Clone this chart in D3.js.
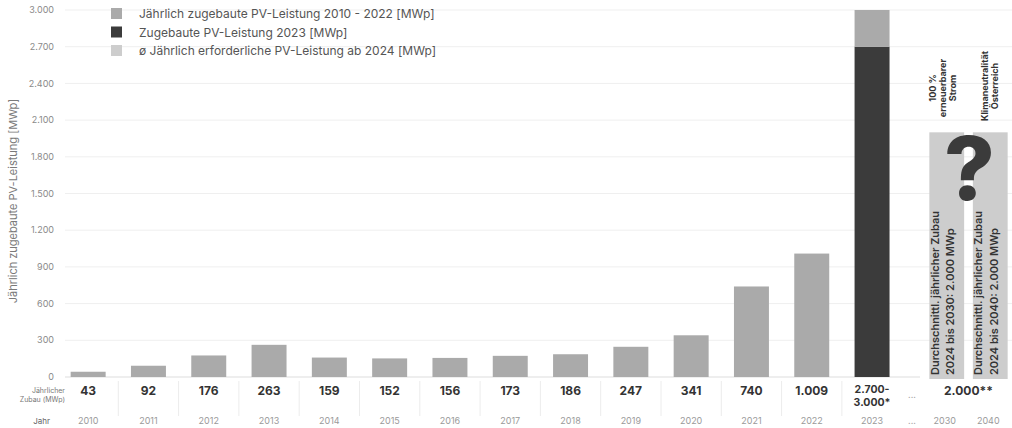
<!DOCTYPE html>
<html><head><meta charset="utf-8">
<script src="https://cdn.jsdelivr.net/npm/d3@7"></script>
<style>body{margin:0;background:#fff}svg{display:block;font-family:Inter,"Open Sans",sans-serif}</style>
</head><body><svg id="c" width="1012" height="428"></svg>
<script>
const years = ["2010","2011","2012","2013","2014","2015","2016","2017","2018","2019","2020","2021","2022","2023"];
const values = [43,92,176,263,159,152,156,173,186,247,341,740,1009,2700];
const range2023Top = 3000;
const valueLabels = ["43","92","176","263","159","152","156","173","186","247","341","740","1.009","2.700-|3.000*"];
const futureYears = ["2030","2040"];
const futureValues = [2000,2000];
const futureLabel = "2.000**";
const yTicks = [0,300,600,900,1200,1500,1800,2100,2400,2700,3000];
const legendItems = ["Jährlich zugebaute PV-Leistung 2010 - 2022 [MWp]","Zugebaute PV-Leistung 2023 [MWp]","ø Jährlich erforderliche PV-Leistung ab 2024 [MWp]"];
const futureTopLabels = [["100 %","erneuerbarer","Strom"],["Klimaneutralität","Österreich"]];
const futureBoxLabels = [["Durchschnittl. jährlicher Zubau","2024 bis 2030: 2.000 MWp"],["Durchschnittl. jährlicher Zubau","2024 bis 2040: 2.000 MWp"]];

const C_MID="#aaaaaa", C_DARK="#3b3b3b", C_LIGHT="#cdcdcd";
const svg=d3.select("#c");
const y=d3.scaleLinear().domain([0,3000]).range([377,10]);
const x=d3.scaleBand().domain(years).range([58,902.2]).paddingInner(0.42).paddingOuter(0.21);
const xf=d3.scaleBand().domain(futureYears).range([925,1012]).paddingInner(0.2).paddingOuter(0.1);

// gridlines
svg.append("g").selectAll("line").data(yTicks).join("line")
 .attr("x1",65).attr("x2",d=>d===0?920:1012).attr("y1",d=>y(d)).attr("y2",d=>y(d))
 .attr("stroke",d=>d===0?"#dddddd":"#efefef").attr("stroke-width",1);
// y tick labels
svg.append("g").selectAll("text").data(yTicks).join("text")
 .attr("x",54).attr("y",d=>y(d)).attr("dy","0.35em").attr("text-anchor","end")
 .attr("font-size",9).attr("fill","#8a8a8a").text(d=>d3.format(",")(d).replace(/,/g,"."));
// y title
svg.append("text").attr("transform","translate(17,201) rotate(-90)").attr("text-anchor","middle")
 .attr("font-size",11).attr("fill","#7a7a7a").text("Jährlich zugebaute PV-Leistung [MWp]");

// bars
svg.append("g").selectAll("rect").data(years).join("rect")
 .attr("x",d=>x(d)).attr("width",x.bandwidth())
 .attr("y",(d,i)=>y(values[i])).attr("height",(d,i)=>y(0)-y(values[i]))
 .attr("fill",(d,i)=>d==="2023"?C_DARK:C_MID);
// 2023 upper range
svg.append("rect").attr("x",x("2023")).attr("width",x.bandwidth())
 .attr("y",y(range2023Top)).attr("height",y(values[13])-y(range2023Top)).attr("fill",C_MID);

// future boxes
svg.append("g").selectAll("rect").data(futureYears).join("rect")
 .attr("x",d=>xf(d)).attr("width",xf.bandwidth())
 .attr("y",(d,i)=>y(futureValues[i])).attr("height",(d,i)=>y(0)-y(futureValues[i])+2)
 .attr("fill",C_LIGHT);
// question mark
svg.append("text").attr("x",(xf("2030")+xf("2040")+xf.bandwidth())/2+1).attr("y",y(2000)+68)
 .attr("text-anchor","middle").attr("font-size",88).attr("font-weight",800).attr("fill",C_DARK).text("?");
// box labels
futureBoxLabels.forEach((lines,k)=>{
  const cx=xf(futureYears[k])+xf.bandwidth()/2;
  lines.forEach((t,j)=>{
    svg.append("text").attr("transform",`translate(${cx-8+j*15.5},375) rotate(-90)`)
     .attr("font-size",11).attr("font-weight",600).attr("fill","#333").text(t);
  });
});
// top labels
futureTopLabels.forEach((lines,k)=>{
  const cx=xf(futureYears[k])+xf.bandwidth()/2;
  const n=lines.length;
  lines.forEach((t,j)=>{
    svg.append("text").attr("transform",`translate(${cx+(j-(n-1)/2)*10+(k===0?-1:3)},${k===0?88:86}) rotate(-90)`)
     .attr("text-anchor","middle").attr("font-size",9).attr("font-weight",700).attr("fill","#333").text(t);
  });
});

// legend
const lg=svg.append("g");
legendItems.forEach((t,i)=>{
  lg.append("rect").attr("x",111).attr("y",8+i*18.5).attr("width",11).attr("height",11)
   .attr("fill",[C_MID,C_DARK,C_LIGHT][i]);
  lg.append("text").attr("x",139).attr("y",18+i*18.5).attr("font-size",12).attr("fill","#555").text(t);
});

// table
const allCenters=years.map(d=>x(d)+x.bandwidth()/2);
svg.append("g").selectAll("line").data(years.slice(0,13)).join("line")
 .attr("x1",d=>x(d)+x.bandwidth()+x.step()*0.21).attr("x2",d=>x(d)+x.bandwidth()+x.step()*0.21)
 .attr("y1",381).attr("y2",416).attr("stroke","#ececec");
years.forEach((d,i)=>{
  const parts=valueLabels[i].split("|");
  parts.forEach((p,j)=>{
    svg.append("text").attr("x",allCenters[i]).attr("y",parts.length>1?393+j*13:395)
     .attr("text-anchor","middle").attr("font-size",parts.length>1?10.5:12).attr("font-weight",700)
     .attr("fill","#333").text(p);
  });
});
svg.append("g").selectAll("text").data(years).join("text")
 .attr("x",(d,i)=>allCenters[i]).attr("y",424).attr("text-anchor","middle")
 .attr("font-size",9).attr("fill","#9a9a9a").text(d=>d);
svg.append("text").attr("x",(xf("2030")+xf("2040")+xf.bandwidth())/2).attr("y",395).attr("text-anchor","middle")
 .attr("font-size",12).attr("font-weight",700).attr("fill","#333").text(futureLabel);
svg.append("g").selectAll("text").data(futureYears).join("text")
 .attr("x",d=>xf(d)+xf.bandwidth()/2-2).attr("y",424).attr("text-anchor","middle")
 .attr("font-size",9).attr("fill","#9a9a9a").text(d=>d);
[398,424].forEach(yy=>svg.append("text").attr("x",912).attr("y",yy).attr("text-anchor","middle")
 .attr("font-size",9).attr("fill","#aaa").text("..."));
svg.append("text").attr("x",65).attr("y",393).attr("text-anchor","end").attr("font-size",7).attr("fill","#777").text("Jährlicher");
svg.append("text").attr("x",65).attr("y",402).attr("text-anchor","end").attr("font-size",7).attr("fill","#777").text("Zubau (MWp)");
svg.append("text").attr("x",50).attr("y",424).attr("text-anchor","end").attr("font-size",8).attr("fill","#666").text("Jahr");
</script></body></html>
